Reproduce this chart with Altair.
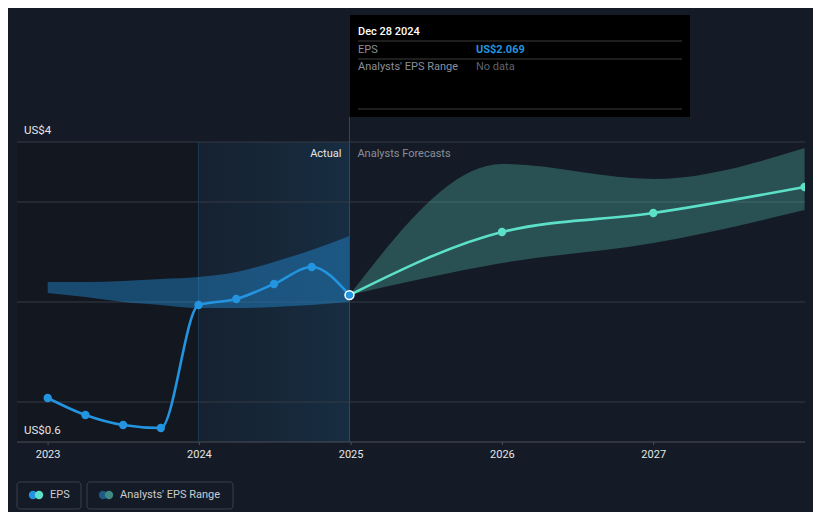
import altair as alt
import pandas as pd

# ---------------- data ----------------
actual_dates = ["2022-12-31", "2023-04-01", "2023-07-01", "2023-09-30", "2023-12-30",
                "2024-03-30", "2024-06-29", "2024-09-28", "2024-12-28"]
actual_eps = [1.04, 0.87, 0.77, 0.74, 1.97, 2.03, 2.18, 2.35, 2.069]
past_range_low = [2.09, 2.05, 2.00, 1.97, 1.94, 1.94, 1.95, 1.97, 2.00]
past_range_high = [2.20, 2.20, 2.21, 2.23, 2.25, 2.30, 2.40, 2.52, 2.66]

forecast_dates = ["2024-12-28", "2025-12-31", "2026-12-31", "2027-12-31"]
forecast_eps = [2.069, 2.70, 2.89, 3.15]
forecast_range_low = [2.069, 2.39, 2.59, 2.92]
forecast_range_high = [2.069, 3.38, 3.23, 3.54]

y_label_values = [0.6, 3.6]
y_label_texts = ["US$0.6", "US$4"]
grid_values = [1, 2, 3, 3.6]
year_tick_dates = ["2023-01-01", "2024-01-01", "2025-01-01", "2026-01-01", "2027-01-01"]
year_tick_labels = ["2023", "2024", "2025", "2026", "2027"]

past_start, today = "2023-12-30", "2024-12-28"
domain_start, domain_end = "2022-10-18", "2028-01-01"

# ---------------- colours ----------------
BG = "#151b26"
BLUE = "#2394df"
TEAL = "#5ce0c8"
FONT = "Roboto"

actual_df = pd.DataFrame({"date": actual_dates, "eps": actual_eps,
                          "low": past_range_low, "high": past_range_high})
fc_df = pd.DataFrame({"date": forecast_dates, "eps": forecast_eps,
                      "low": forecast_range_low, "high": forecast_range_high})

x_scale = alt.Scale(domain=[domain_start, domain_end], type="utc")
y_scale = alt.Scale(domain=[0.6, 3.6], nice=False, zero=False)


def X(f="date"):
    return alt.X(f"{f}:T", scale=x_scale, axis=None)


def Y(f):
    return alt.Y(f"{f}:Q", scale=y_scale, axis=None)


# gridlines and x axis drawn through the scales
grid = alt.Chart(pd.DataFrame({"v": grid_values})).mark_rule(color="#353a44", strokeWidth=1).encode(
    y=Y("v"), x=alt.value(0), x2=alt.value(788))
base_line = alt.Chart(pd.DataFrame({"v": [0.6]})).mark_rule(color="#4a4f58", strokeWidth=1).encode(
    y=Y("v"), x=alt.value(0), x2=alt.value(788))
ticks_df = pd.DataFrame({"date": year_tick_dates, "t": year_tick_labels})
xticks = alt.Chart(ticks_df).mark_rule(color="#4a4f58", strokeWidth=1).encode(
    x=X(), y=alt.value(300), y2=alt.value(303))
xlabels = alt.Chart(ticks_df).mark_text(color="#e6e6e6", fontSize=11, font=FONT,
                                        baseline="middle", align="center").encode(
    x=X(), y=alt.value(313), text="t:N")

# background regions
dark_df = pd.DataFrame({"s": [domain_start], "e": [past_start]})
dark = alt.Chart(dark_df).mark_rect(color="#000000", opacity=0.14).encode(
    x=X("s"), x2="e", y=alt.value(0), y2=alt.value(300))

hl_df = pd.DataFrame({"s": [past_start], "e": [today]})
hl = alt.Chart(hl_df).mark_rect(
    color=alt.Gradient(gradient="linear", x1=0, x2=1, y1=0, y2=0,
                       stops=[alt.GradientStop(color="rgba(35,148,223,0.05)", offset=0),
                              alt.GradientStop(color="rgba(35,148,223,0.15)", offset=1)])
).encode(x=X("s"), x2="e", y=alt.value(0), y2=alt.value(300))

hl_edge = alt.Chart(hl_df).mark_rule(color="#1c3a55", strokeWidth=1).encode(
    x=X("s"), y=alt.value(0), y2=alt.value(300))

# bands
past_band = alt.Chart(actual_df).mark_area(color=BLUE, opacity=0.42, interpolate="monotone").encode(
    x=X(), y=Y("low"), y2="high")
fc_band = alt.Chart(fc_df).mark_area(color=TEAL, opacity=0.28, interpolate="monotone").encode(
    x=X(), y=Y("low"), y2="high")

# today rule
today_rule = alt.Chart(hl_df).mark_rule(color="#1f4f7a", strokeWidth=1).encode(
    x=X("e"), y=alt.value(-25), y2=alt.value(300))

# lines
actual_line = alt.Chart(actual_df).mark_line(color=BLUE, strokeWidth=2.6, interpolate="monotone").encode(
    x=X(), y=Y("eps"))
fc_line = alt.Chart(fc_df).mark_line(color=TEAL, strokeWidth=2.6, interpolate="monotone").encode(
    x=X(), y=Y("eps"))

actual_pts = alt.Chart(actual_df.iloc[:-1]).mark_circle(color=BLUE, size=70, opacity=1).encode(
    x=X(), y=Y("eps"))
fc_pts = alt.Chart(fc_df.iloc[1:]).mark_circle(color=TEAL, size=70, opacity=1, clip=True).encode(
    x=X(), y=Y("eps"))
today_pt = alt.Chart(actual_df.iloc[-1:]).mark_point(
    filled=True, fill=BLUE, stroke="#ffffff", strokeWidth=1.5, size=80, opacity=1).encode(
    x=X(), y=Y("eps"))

# y labels
ylab_df = pd.DataFrame({"v": y_label_values, "t": y_label_texts})
ylabels = alt.Chart(ylab_df).mark_text(align="left", baseline="middle", dy=-11,
                                       color="#e6e6e6", fontSize=11.5, font=FONT).encode(
    x=alt.value(7), y=Y("v"), text="t:N")

# actual / forecast labels
act_txt = alt.Chart(pd.DataFrame({"date": [today], "t": ["Actual"]})).mark_text(
    align="right", baseline="middle", dx=-8, color="#e6e6e6", fontSize=11, font=FONT).encode(
    x=X(), y=alt.value(12), text="t:N")
fc_txt = alt.Chart(pd.DataFrame({"date": [today], "t": ["Analysts Forecasts"]})).mark_text(
    align="left", baseline="middle", dx=8, color="#8a8f98", fontSize=11, font=FONT).encode(
    x=X(), y=alt.value(12), text="t:N")

one = pd.DataFrame({"a": [0]})


def box(x0, x1, y0, y1, **kw):
    return alt.Chart(one).mark_rect(**kw).encode(
        x=alt.value(x0), x2=alt.value(x1), y=alt.value(y0), y2=alt.value(y1))


def hline(x0, x1, y, color):
    return alt.Chart(one).mark_rule(color=color, strokeWidth=1).encode(
        x=alt.value(x0), x2=alt.value(x1), y=alt.value(y))


def txt(t, x, y, color, size=11, weight="normal"):
    return alt.Chart(pd.DataFrame({"t": [t]})).mark_text(
        align="left", baseline="middle", color=color, fontSize=size, font=FONT,
        fontWeight=weight).encode(x=alt.value(x), y=alt.value(y), text="t:N")


def dot(x, y, color):
    return alt.Chart(one).mark_circle(size=70, opacity=1, color=color).encode(
        x=alt.value(x), y=alt.value(y))


# tooltip box
tooltip = [
    box(333, 673, -127, -25, color="#000000"),
    hline(341, 665, -101, "#3d3d3d"),
    hline(341, 665, -83, "#3d3d3d"),
    hline(341, 665, -33, "#3d3d3d"),
    txt("Dec 28 2024", 341, -110, "#ffffff", 11, 500),
    txt("EPS", 341, -92, "#8a8f98"),
    txt("US$2.069", 459, -92, BLUE, 11, "bold"),
    txt("Analysts' EPS Range", 341, -75, "#8a8f98"),
    txt("No data", 459, -75, "#5f636b"),
]

# legend
legend = [
    box(0, 64, 340, 367, fill="transparent", stroke="#3b404a", strokeWidth=1, cornerRadius=3),
    box(70, 216, 340, 367, fill="transparent", stroke="#3b404a", strokeWidth=1, cornerRadius=3),
    dot(16, 353, BLUE), dot(22, 353, TEAL),
    dot(86, 353, "#1f5a85"), dot(92, 353, "#3d8a84"),
    txt("EPS", 33, 353, "#c9ccd1", 11),
    txt("Analysts' EPS Range", 103, 353, "#c9ccd1", 11),
]

chart = alt.layer(
    dark, hl, grid, base_line, xticks, xlabels, hl_edge, past_band, fc_band, today_rule,
    actual_line, fc_line, actual_pts, fc_pts, today_pt,
    ylabels, act_txt, fc_txt, *tooltip, *legend,
).properties(
    width=788, height=300, autosize="none",
    padding={"left": 9, "top": 134, "right": 8, "bottom": 70},
    background=BG,
).configure(font=FONT).configure_view(strokeWidth=0)

chart.save("out.html", embed_options={"renderer": "svg", "actions": False})
